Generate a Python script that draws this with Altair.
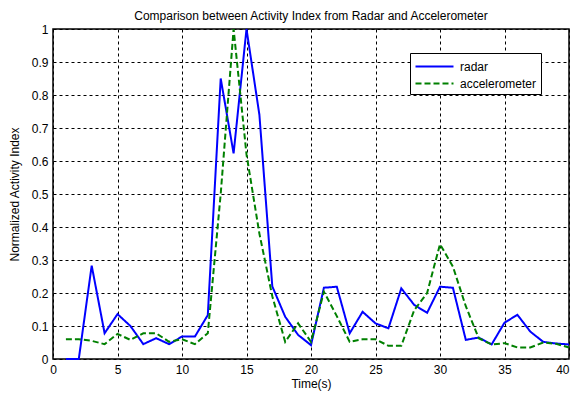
import altair as alt
import pandas as pd

t = list(range(1, 41))
radar = [0, 0, 0.283, 0.078, 0.136, 0.10, 0.045, 0.063, 0.045, 0.068,
         0.068, 0.133, 0.85, 0.623, 1.0, 0.74, 0.22, 0.128, 0.073, 0.042,
         0.216, 0.219, 0.078, 0.143, 0.108, 0.093, 0.214, 0.164, 0.14, 0.219,
         0.216, 0.058, 0.065, 0.044, 0.11, 0.134, 0.083, 0.052, 0.047, 0.044]
accel = [0.06, 0.06, 0.055, 0.045, 0.076, 0.058, 0.078, 0.078, 0.052, 0.06,
         0.045, 0.078, 0.50, 1.0, 0.62, 0.38, 0.19, 0.052, 0.108, 0.052,
         0.204, 0.13, 0.052, 0.06, 0.06, 0.04, 0.04, 0.148, 0.2, 0.348,
         0.28, 0.16, 0.063, 0.044, 0.048, 0.035, 0.035, 0.05, 0.046, 0.035]
series = ["radar", "accelerometer"]
x_ticks = [0, 5, 10, 15, 20, 25, 30, 35, 40]
y_ticks = [0, 0.1, 0.2, 0.3, 0.4, 0.5, 0.6, 0.7, 0.8, 0.9, 1]

df = pd.concat([
    pd.DataFrame({"t": t, "v": radar, "s": series[0]}),
    pd.DataFrame({"t": t, "v": accel, "s": series[1]}),
])

font = "Liberation Sans"

chart = alt.Chart(df).mark_line(strokeWidth=2).encode(
    x=alt.X("t:Q", scale=alt.Scale(domain=[0, 40], nice=False),
            axis=alt.Axis(values=x_ticks, title="Time(s)", format="~g",
                          labelAlign={"condition": {"test": "datum.value >= 40", "value": "right"},
                                      "value": "center"})),
    y=alt.Y("v:Q", scale=alt.Scale(domain=[0, 1], nice=False),
            axis=alt.Axis(values=y_ticks, title="Normalized Activity Index", format="~g")),
    color=alt.Color("s:N", scale=alt.Scale(domain=series, range=["#0000FF", "#008000"]),
                    legend=alt.Legend(title=None, orient="none", legendX=357, legendY=24,
                                      symbolType="M-2.235,0H2.235", symbolSize=289,
                                      symbolStrokeWidth=2, symbolOffset=11,
                                      fillColor="white", strokeColor="black", padding=4,
                                      labelFontSize=12, labelFont=font, labelColor="black",
                                      rowPadding=1, labelOffset=16)),
    strokeDash=alt.StrokeDash("s:N", scale=alt.Scale(domain=series, range=[[1, 0], [6, 3]]),
                              legend=None),
    order="t:Q",
).properties(
    width=516, height=330,
    title=alt.TitleParams("Comparison between Activity Index from Radar and Accelerometer",
                          font=font, fontSize=12, fontWeight="normal", color="black", offset=0),
    autosize=alt.AutoSizeParams(type="none"),
    padding={"left": 45, "top": 21, "right": 1, "bottom": 32},
).configure_view(stroke="black", strokeWidth=1.5).configure_axis(
    grid=True, gridColor="black", gridDash=[3, 3], gridOpacity=1, gridWidth=1,
    domain=False, ticks=False, labelFont=font, labelFontSize=12, labelColor="black",
    titleFont=font, titleFontSize=12, titleFontWeight="normal", titleColor="black",
    labelPadding=5, labelFlush=False,
).configure_axisX(titlePadding=3).configure_axisY(titlePadding=10)

chart.save("out.html", embed_options={"renderer": "svg", "actions": False})
